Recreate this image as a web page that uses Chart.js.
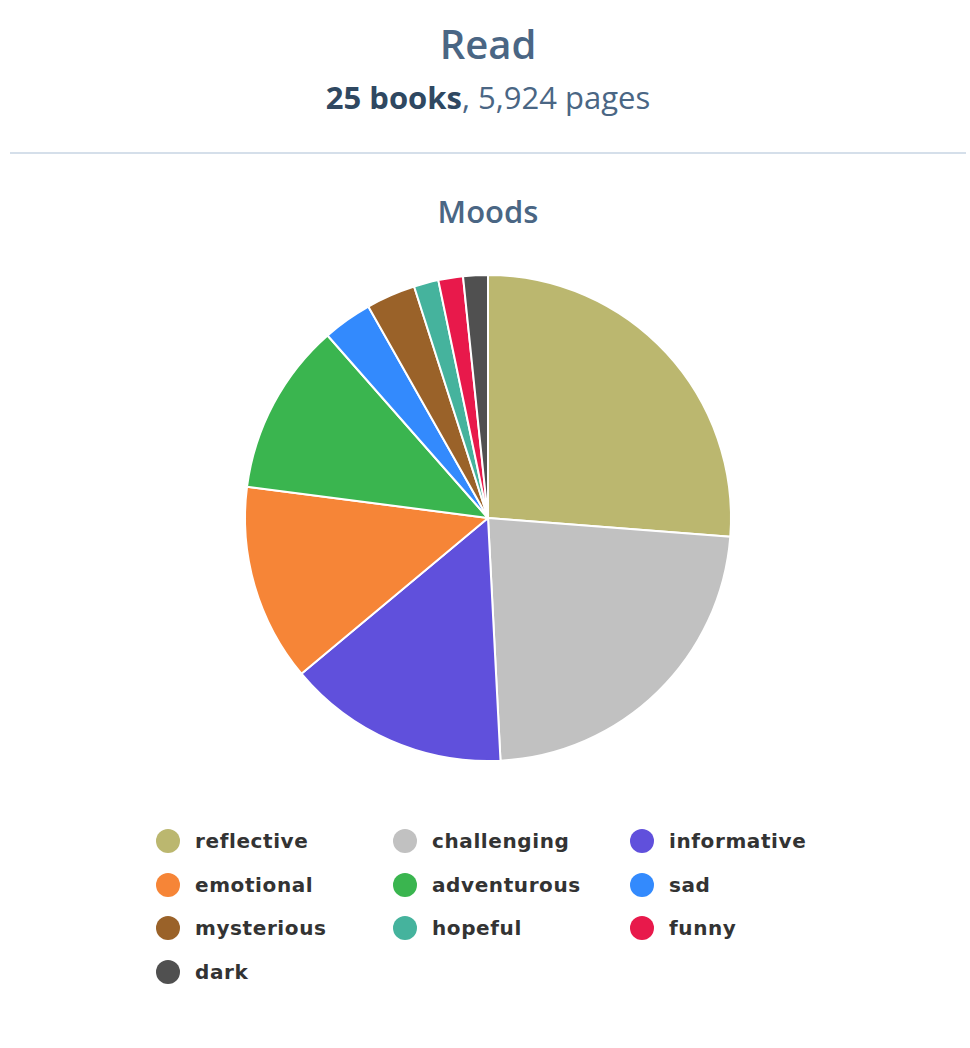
<!DOCTYPE html>
<html>
<head>
<meta charset="utf-8">
<script src="https://cdn.jsdelivr.net/npm/chart.js@4/dist/chart.umd.min.js"></script>
<style>
  html, body { margin: 0; padding: 0; background: #ffffff; }
  body { width: 970px; height: 1048px; position: relative; overflow: hidden; font-family: "Open Sans", sans-serif; }
  #title { position: absolute; left: 0; width: 976px; top: 17px; text-align: center; font-size: 40px; font-weight: 600; color: #4a6684; line-height: 54px; }
  #sub { position: absolute; left: 0; width: 976px; top: 76px; text-align: center; font-size: 31px; color: #4a6684; line-height: 42px; }
  #sub b { color: #2f4861; font-weight: 700; }
  #rule { position: absolute; left: 10px; top: 152px; width: 956px; height: 2px; background: #d5dfea; }
  #moods { position: absolute; left: 0; width: 976px; top: 189px; text-align: center; font-size: 31px; font-weight: 600; color: #4a6684; line-height: 44px; }
  #wrap { position: absolute; left: 238px; top: 268px; width: 500px; height: 500px; }
  #legend { position: absolute; left: 156px; top: 819px; display: grid; grid-template-columns: 237px 237px 237px; grid-auto-rows: 43.7px; }
  .item { display: flex; align-items: center; font-family: "DejaVu Sans", sans-serif; font-weight: bold; font-size: 20px; color: #333333; letter-spacing: 0.6px; }
  .dot { width: 24px; height: 24px; border-radius: 50%; margin-right: 15px; flex: none; }
</style>
</head>
<body>
<div id="title">Read</div>
<div id="sub"><b>25 books</b>, 5,924 pages</div>
<div id="rule"></div>
<div id="moods">Moods</div>
<div id="wrap"><canvas id="c" width="500" height="500"></canvas></div>
<div id="legend"></div>
<script>
const categories = ["reflective", "challenging", "informative", "emotional", "adventurous", "sad", "mysterious", "hopeful", "funny", "dark"];
const moodCounts = [16, 14, 9, 8, 7, 2, 2, 1, 1, 1];
const colors = ["#bbb76f", "#c1c1c1", "#6050dc", "#f68537", "#3ab54f", "#338afd", "#9a6229", "#45b39d", "#e8194b", "#505050"];

new Chart(document.getElementById('c'), {
  type: 'pie',
  data: {
    labels: categories,
    datasets: [{
      data: moodCounts,
      backgroundColor: colors,
      borderColor: '#ffffff',
      borderWidth: 2
    }]
  },
  options: {
    responsive: false,
    animation: false,
    layout: { padding: 6 },
    plugins: { legend: { display: false }, tooltip: { enabled: false } }
  }
});

const legend = document.getElementById('legend');
categories.forEach((name, i) => {
  const item = document.createElement('div');
  item.className = 'item';
  const dot = document.createElement('span');
  dot.className = 'dot';
  dot.style.background = colors[i];
  item.appendChild(dot);
  item.appendChild(document.createTextNode(name));
  legend.appendChild(item);
});
</script>
</body>
</html>
